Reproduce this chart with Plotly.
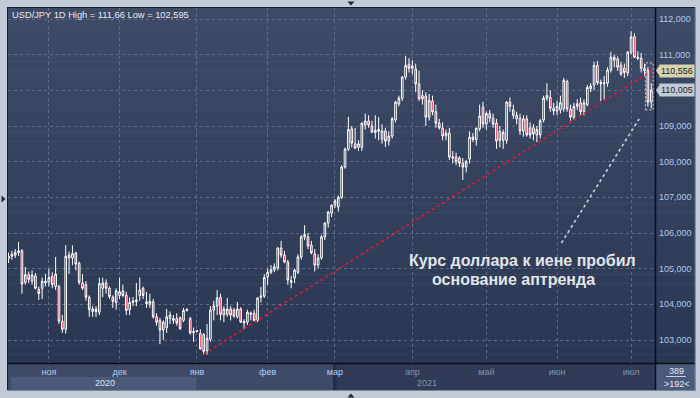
import plotly.graph_objects as go
import pandas as pd

# ---------------- data (USD/JPY daily) ----------------
start_date = "2020-10-15"
end_date = "2021-07-09"

opens = [
    105.28, 105.35, 105.38, 105.45, 105.50, 104.62, 104.83, 104.65, 104.80, 104.42, 104.45, 104.60,
    104.62, 104.78, 104.50, 104.50, 103.53, 103.30, 105.30, 105.30, 105.44, 105.15, 104.60, 104.55, 104.20, 103.80, 103.87, 103.78, 104.45, 104.60, 104.45, 104.20, 104.05,
    104.25, 104.38, 104.25, 103.85, 104.05, 104.08, 104.25, 104.45, 104.02, 104.00, 104.07, 103.65, 103.55, 103.28, 103.35, 103.60, 103.55, 103.60, 103.62, 103.55, 103.83, 103.60, 103.20,
    103.24, 103.18, 103.15, 102.70, 103.02, 103.84, 103.95, 104.20, 103.70, 103.72, 103.87, 103.84, 103.65, 103.87, 103.48, 103.50, 103.72, 103.75, 103.55, 104.20, 104.23,
    104.77, 104.90, 104.97, 105.02, 105.58, 105.38, 105.19, 104.62, 104.74, 104.90, 105.33, 105.89, 105.89, 105.66, 105.41, 105.10, 105.30, 105.89, 106.28, 106.56,
    106.78, 106.73, 107.00, 107.85, 108.35, 108.92, 108.50, 108.40, 108.40, 109.03, 109.14, 109.00, 108.82, 108.85, 108.63, 108.86, 108.58, 108.72, 109.17, 109.62, 109.78, 110.37, 110.73,
    110.62, 110.60, 110.18, 109.85, 109.84, 109.25, 109.70, 109.40, 109.08, 108.94, 108.72, 108.80, 108.10, 108.13, 108.10, 107.96, 107.85, 108.07, 108.69, 108.62, 108.92, 109.53,
    109.06, 109.35, 109.22, 109.08, 108.85, 108.60, 108.60, 109.67, 109.45, 109.20, 109.22, 108.86, 109.20, 108.95, 108.95, 108.75, 108.75, 109.17, 109.78, 109.80, 109.50,
    109.42, 109.45, 109.48, 110.25, 109.47, 109.25, 109.55, 109.65, 109.40, 109.60, 110.05, 110.15, 110.70, 110.18, 110.18, 110.20, 110.57, 110.93, 110.88, 110.70, 110.62, 110.49,
    111.07, 111.50, 110.93, 110.90, 110.55, 110.556, 109.67,
]
highs = [
    105.45, 105.50, 105.55, 105.75, 105.55, 105.05, 104.92, 104.95, 104.88, 104.50, 104.75, 104.85,
    105.00, 104.90, 105.33, 104.55, 103.70, 105.66, 105.48, 105.65, 105.48, 105.20, 104.85, 104.65, 104.25, 103.95, 103.95, 104.75, 104.75, 104.70, 104.50, 104.25, 104.45,
    104.75, 104.55, 104.35, 104.20, 104.20, 104.60, 104.75, 104.50, 104.35, 104.30, 104.15, 103.75, 103.62, 103.55, 103.87, 103.80, 103.70, 103.75, 103.66, 103.90, 103.88, 103.65, 103.35,
    103.28, 103.30, 103.20, 103.45, 103.95, 104.10, 104.40, 104.30, 103.95, 104.18, 103.95, 103.90, 104.07, 103.92, 103.58, 103.85, 103.80, 103.85, 104.20, 104.49, 104.85,
    105.00, 105.10, 105.15, 105.60, 105.78, 105.50, 105.25, 104.80, 105.00, 105.40, 105.95, 106.22, 106.00, 105.78, 105.55, 105.40, 105.95, 106.30, 106.62, 106.80,
    106.95, 107.05, 107.90, 108.40, 109.26, 109.00, 108.95, 108.60, 109.10, 109.35, 109.30, 109.15, 109.30, 109.25, 109.05, 108.95, 108.85, 109.25, 109.70, 109.85, 110.40, 110.96, 110.90,
    110.85, 110.75, 110.55, 110.00, 109.95, 109.90, 109.85, 109.60, 109.20, 109.10, 108.90, 108.95, 108.30, 108.25, 108.15, 108.10, 108.05, 108.85, 108.80, 108.95, 109.60, 109.68,
    109.40, 109.45, 109.35, 109.20, 109.00, 108.90, 109.70, 109.80, 109.60, 109.40, 109.35, 109.30, 109.30, 109.10, 109.05, 109.00, 109.20, 109.85, 110.20, 110.00, 109.65,
    109.70, 109.85, 110.35, 110.30, 109.60, 109.65, 109.75, 109.80, 109.75, 110.15, 110.20, 110.80, 110.82, 110.30, 110.40, 110.65, 111.08, 111.00, 110.95, 110.80, 110.75, 111.10,
    111.66, 111.60, 111.10, 111.05, 110.75, 110.65, 110.20,
]
lows = [
    105.16, 105.25, 105.30, 105.35, 104.30, 104.55, 104.60, 104.55, 104.42, 104.12, 104.15, 104.50,
    104.50, 104.45, 104.40, 103.45, 103.20, 103.18, 104.85, 105.10, 104.95, 104.55, 104.40, 104.10, 103.65, 103.65, 103.65, 103.70, 104.20, 104.30, 104.15, 103.90, 103.85,
    104.15, 104.20, 103.70, 103.70, 103.95, 103.95, 104.10, 104.15, 103.90, 103.90, 103.60, 103.40, 102.88, 103.00, 103.20, 103.45, 103.45, 103.40, 103.28, 103.50, 103.80, 103.15, 102.95,
    103.22, 102.72, 102.60, 102.59, 102.95, 103.55, 103.70, 103.55, 103.50, 103.65, 103.55, 103.62, 103.60, 103.48, 103.30, 103.42, 103.55, 103.52, 103.50, 104.05, 104.18,
    104.55, 104.85, 104.90, 104.95, 105.30, 105.15, 104.55, 104.45, 104.60, 104.85, 105.25, 105.80, 105.55, 105.40, 104.92, 105.00, 105.25, 105.80, 106.15, 106.45,
    106.70, 106.60, 106.95, 107.80, 108.30, 108.40, 108.35, 108.30, 108.30, 108.90, 108.95, 108.80, 108.65, 108.60, 108.50, 108.41, 108.45, 108.65, 109.10, 109.55, 109.70, 110.30, 110.50,
    110.45, 109.95, 109.70, 109.60, 109.00, 109.15, 109.30, 108.95, 108.90, 108.60, 108.60, 108.05, 107.95, 107.90, 107.85, 107.49, 107.70, 107.95, 108.55, 108.45, 108.85, 108.95,
    108.90, 109.10, 108.95, 108.36, 108.40, 108.36, 108.50, 109.40, 109.20, 109.05, 108.75, 108.70, 108.70, 108.65, 108.60, 108.55, 108.65, 109.10, 109.70, 109.40, 109.30,
    109.30, 109.35, 109.40, 109.40, 109.15, 109.18, 109.45, 109.30, 109.30, 109.55, 109.95, 110.00, 110.15, 109.70, 109.75, 110.10, 110.50, 110.65, 110.55, 110.40, 110.35, 110.40,
    111.00, 110.90, 110.85, 110.50, 110.40, 109.55, 109.50,
]
closes = [
    105.35, 105.40, 105.45, 105.50, 104.57, 104.83, 104.70, 104.82, 104.45, 104.30, 104.65, 104.65,
    104.75, 104.55, 104.85, 103.53, 103.30, 105.35, 105.38, 105.42, 105.13, 104.62, 104.45, 104.20, 103.85, 103.87, 103.80, 104.58, 104.60, 104.45, 104.22, 104.08, 104.38,
    104.35, 104.25, 103.83, 104.05, 104.10, 104.12, 104.40, 104.25, 104.07, 104.08, 103.65, 103.50, 103.28, 103.50, 103.65, 103.70, 103.60, 103.48, 103.32, 103.83, 103.86, 103.20, 103.24,
    103.26, 102.75, 102.68, 103.05, 103.84, 103.95, 104.18, 103.72, 103.87, 103.87, 103.70, 103.67, 103.87, 103.50, 103.52, 103.78, 103.75, 103.55, 104.18, 104.23, 104.75,
    104.90, 104.97, 105.05, 105.58, 105.38, 105.19, 104.68, 104.66, 104.96, 105.33, 105.89, 105.95, 105.64, 105.44, 105.10, 105.30, 105.89, 106.28, 106.59, 106.78,
    106.90, 107.00, 107.85, 108.35, 108.90, 108.52, 108.38, 108.50, 109.08, 109.14, 109.03, 108.83, 108.88, 108.90, 108.86, 108.58, 108.72, 109.20, 109.67, 109.78, 110.37, 110.70, 110.62,
    110.68, 110.18, 109.76, 109.76, 109.25, 109.72, 109.40, 109.08, 108.95, 108.72, 108.80, 108.13, 108.13, 108.00, 107.96, 107.85, 108.00, 108.69, 108.62, 108.94, 109.28, 109.06,
    109.35, 109.22, 109.05, 108.58, 108.60, 108.82, 109.67, 109.55, 109.30, 109.30, 108.86, 109.20, 108.75, 108.75, 108.78, 108.90, 109.15, 109.78, 109.85, 109.50, 109.42,
    109.55, 109.65, 110.28, 109.48, 109.25, 109.55, 109.62, 109.40, 109.65, 110.08, 110.12, 110.70, 110.22, 110.22, 110.22, 110.57, 110.93, 110.85, 110.65, 110.46, 110.50, 111.07,
    111.50, 110.93, 110.90, 110.62, 110.62, 109.67, 110.005,
]

month_labels = ["ноя", "дек", "янв", "фев", "мар", "апр", "май", "июн", "июл"]
year_labels = ["2020", "2021"]
y_ticks = [103, 104, 105, 106, 107, 108, 109, 110, 111, 112]
# the 110,000 label is hidden behind the price labels in the reference
y_ticktext = ["103,000", "104,000", "105,000", "106,000", "107,000",
              "108,000", "109,000", "", "111,000", "112,000"]

# trend line (Jan low -> right edge) and pointer line, in (bar index, price)
trend_x = [58, 192]
trend_y = [102.60, 110.60]
pointer_x = [164.3, 187.4]
pointer_y = [105.72, 109.20]

price_marks = [110.556, 110.005]
header = "USD/JPY 1D High = 111,66 Low = 102,595"
note_lines = ["Курс доллара к иене пробил", "основание аптренда"]

# ---------------- geometry helpers ----------------
W, H = 700, 398
PL, PR, PT, PB = 8, 657, 8, 363


def px(x):
    return (x - PL) / (PR - PL)


def py(y):
    return (PB - y) / (PB - PT)


dates = pd.bdate_range(start_date, end_date)
n = len(dates)
idx = list(range(n))
month_ticks = [i for i in range(1, n) if dates[i].month != dates[i - 1].month]
light, grey = "#b3cdee", "#8692a8"
month_text = []
for k, lab in enumerate(month_labels):
    col = light if k < 5 else grey
    month_text.append(f'<span style="color:{col}">{lab}</span>')

fig = go.Figure()
fig.add_trace(go.Candlestick(
    x=idx, open=opens, high=highs, low=lows, close=closes,
    increasing=dict(line=dict(color="#ffffff", width=1), fillcolor="#2f3c58"),
    decreasing=dict(line=dict(color="#ffffff", width=1), fillcolor="#e8103a"),
    whiskerwidth=0, hoverinfo="skip", showlegend=False,
))
fig.add_trace(go.Scatter(x=trend_x, y=trend_y, mode="lines",
                         line=dict(color="#e3173a", width=1.6, dash="dot"),
                         hoverinfo="skip", showlegend=False))
fig.add_trace(go.Scatter(x=pointer_x, y=pointer_y, mode="lines",
                         line=dict(color="#c9d0dc", width=1.6, dash="dot"),
                         hoverinfo="skip", showlegend=False))

shapes = []
# gradient background of the chart panel
nb = 40
top = (62, 75, 103)
bot = (43, 56, 83)
for k in range(nb):
    t = k / (nb - 1)
    c = tuple(int(round(top[j] + (bot[j] - top[j]) * t)) for j in range(3))
    y0 = PT + (PB - PT) * k / nb
    y1 = PT + (PB - PT) * (k + 1) / nb + 0.5
    shapes.append(dict(type="rect", xref="paper", yref="paper", layer="below",
                       x0=px(8), x1=px(697), y0=py(y1), y1=py(y0),
                       fillcolor="rgb(%d,%d,%d)" % c, line=dict(width=0)))
# bottom time band
shapes.append(dict(type="rect", xref="paper", yref="paper", layer="below",
                   x0=px(8), x1=px(335), y0=py(390), y1=py(363),
                   fillcolor="#3d4b69", line=dict(width=0)))
shapes.append(dict(type="rect", xref="paper", yref="paper", layer="below",
                   x0=px(335), x1=px(657), y0=py(390), y1=py(363),
                   fillcolor="#2e3a56", line=dict(width=0)))
shapes.append(dict(type="rect", xref="paper", yref="paper", layer="below",
                   x0=px(334), x1=px(337.5), y0=py(390), y1=py(364),
                   fillcolor="#242d43", line=dict(width=0)))
shapes.append(dict(type="rect", xref="paper", yref="paper", layer="below",
                   x0=px(11), x1=px(197), y0=py(390), y1=py(377),
                   fillcolor="#4a5a78", line=dict(width=0)))
# bottom-right cell
shapes.append(dict(type="rect", xref="paper", yref="paper", layer="below",
                   x0=px(657), x1=px(697), y0=py(390), y1=py(363),
                   fillcolor="#4a5a7a", line=dict(width=0)))
shapes.append(dict(type="line", xref="paper", yref="paper",
                   x0=px(668), x1=px(688), y0=py(376.5), y1=py(376.5),
                   line=dict(color="#c8d2e2", width=1)))
# separators and frame
shapes.append(dict(type="line", xref="paper", yref="paper",
                   x0=px(657.5), x1=px(657.5), y0=py(390), y1=py(8),
                   line=dict(color="#0a0e16", width=1.5)))
shapes.append(dict(type="line", xref="paper", yref="paper",
                   x0=px(8), x1=px(697), y0=py(363.5), y1=py(363.5),
                   line=dict(color="#0a0e16", width=1.5)))
shapes.append(dict(type="line", xref="paper", yref="paper",
                   x0=px(7), x1=px(697), y0=py(7.5), y1=py(7.5),
                   line=dict(color="#151b27", width=1)))
shapes.append(dict(type="line", xref="paper", yref="paper",
                   x0=px(7.5), x1=px(7.5), y0=py(391), y1=py(7),
                   line=dict(color="#151b27", width=1)))
shapes.append(dict(type="line", xref="paper", yref="paper",
                   x0=px(7), x1=px(697.5), y0=py(390.5), y1=py(390.5),
                   line=dict(color="#7b879c", width=1)))
shapes.append(dict(type="line", xref="paper", yref="paper",
                   x0=px(697.5), x1=px(697.5), y0=py(391), y1=py(7),
                   line=dict(color="#7b879c", width=1)))
# selection box round the last two bars
shapes.append(dict(type="rect", xref="x", yref="y",
                   x0=n - 2.75, x1=n - 0.45, y0=109.45, y1=110.77,
                   fillcolor="rgba(255,255,255,0.06)",
                   line=dict(color="#d2c8cc", width=1, dash="2px,2px")))
# pointers of the price labels
ppx = 35.667
for v, col in zip(price_marks, ["#d8d2ae", "#c3cad6"]):
    d = 6.0 / ppx
    shapes.append(dict(type="path", xref="paper", yref="y",
                       path=f"M {px(658)},{v} L {px(662)},{v + d} L {px(662)},{v - d} Z",
                       fillcolor=col, line=dict(width=0)))
# small navigation arrows in the outer frame (drawn as shapes)
tri = [
    (348.5, 1.5, 355.5, 1.5, 352, 5.5),
    (348.5, 397.5, 355.5, 397.5, 352, 393.5),
    (1.5, 195.5, 1.5, 202.5, 5.5, 199),
]
for a in tri:
    shapes.append(dict(type="path", xref="paper", yref="paper",
                       path=f"M {px(a[0])},{py(a[1])} L {px(a[2])},{py(a[3])} L {px(a[4])},{py(a[5])} Z",
                       fillcolor="#1d2333", line=dict(width=0)))

annotations = []
annotations.append(dict(xref="paper", yref="paper", x=px(10), y=py(15),
                        xanchor="left", yanchor="middle", showarrow=False,
                        text=header,
                        font=dict(family="Liberation Sans", size=9.3, color="#e6eaf2")))
annotations.append(dict(xref="paper", yref="paper", x=px(524), y=py(260),
                        xanchor="center", yanchor="middle", showarrow=False,
                        text="<b>" + note_lines[0] + "</b>",
                        font=dict(family="Liberation Sans", size=16, color="#e2e4e8")))
annotations.append(dict(xref="paper", yref="paper", x=px(515.5), y=py(279),
                        xanchor="center", yanchor="middle", showarrow=False,
                        text="<b>" + note_lines[1] + "</b>",
                        font=dict(family="Liberation Sans", size=16, color="#e2e4e8")))
annotations.append(dict(xref="paper", yref="paper", x=px(105), y=py(383),
                        xanchor="center", yanchor="middle", showarrow=False,
                        text=year_labels[0],
                        font=dict(family="Liberation Sans", size=9, color="#dfe5ef")))
annotations.append(dict(xref="paper", yref="paper", x=px(428), y=py(383),
                        xanchor="center", yanchor="middle", showarrow=False,
                        text=year_labels[1],
                        font=dict(family="Liberation Sans", size=9, color="#8692a8")))
annotations.append(dict(xref="paper", yref="paper", x=px(678.5), y=py(370.5),
                        xanchor="center", yanchor="middle", showarrow=False,
                        text="389",
                        font=dict(family="Liberation Sans", size=9, color="#e8ecf4")))
annotations.append(dict(xref="paper", yref="paper", x=px(679.5), y=py(383.5),
                        xanchor="center", yanchor="middle", showarrow=False,
                        text="&gt;%d&lt;" % n,
                        font=dict(family="Liberation Sans", size=9, color="#e8ecf4")))
for v, col in zip(price_marks, ["#d8d2ae", "#c3cad6"]):
    annotations.append(dict(xref="paper", yref="y", x=px(661.5), y=v,
                            xanchor="left", yanchor="middle", showarrow=False,
                            text=("%.3f" % v).replace(".", ","),
                            bgcolor=col, borderpad=1,
                            font=dict(family="Liberation Sans", size=9, color="#1a1e26")))

grid_col = "#5f6d8b"
fig.update_layout(
    width=W, height=H,
    margin=dict(l=PL, r=W - PR, t=PT, b=H - PB, pad=0),
    paper_bgcolor="#c2cad8",
    plot_bgcolor="rgba(0,0,0,0)",
    showlegend=False,
    shapes=shapes,
    annotations=annotations,
    xaxis=dict(
        range=[(PL - 8.5) / 3.3757, (PR - 8.5) / 3.3757],
        tickmode="array", tickvals=month_ticks, ticktext=month_text,
        showgrid=True, gridcolor=grid_col, griddash="3px,3px", gridwidth=1,
        zeroline=False, showline=False, ticks="", ticklabelstandoff=2,
        tickfont=dict(family="Liberation Sans", size=9, color=light),
        rangeslider=dict(visible=False), fixedrange=True,
    ),
    yaxis=dict(
        side="right",
        range=[103 - (PB - 340) / ppx, 112 + (19 - PT) / ppx],
        tickmode="array", tickvals=y_ticks, ticktext=y_ticktext,
        showgrid=True, gridcolor=grid_col, griddash="3px,3px", gridwidth=1,
        zeroline=False, showline=False, ticks="", ticklabelstandoff=3,
        tickfont=dict(family="Liberation Sans", size=9, color="#aacbef"),
        fixedrange=True,
    ),
)

fig.write_html("out.html")
